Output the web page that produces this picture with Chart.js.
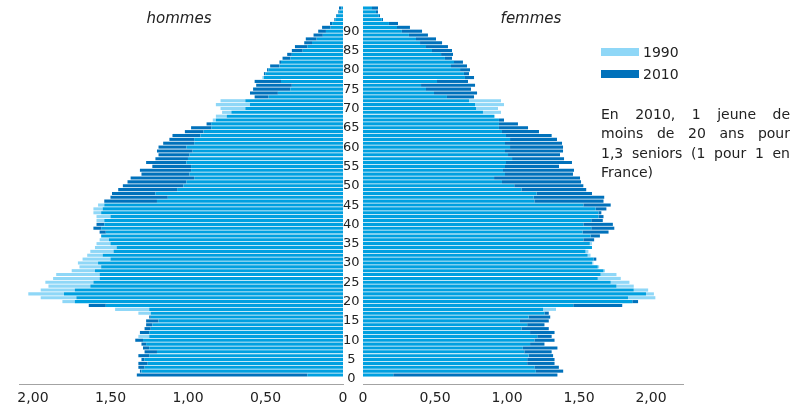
<!DOCTYPE html>
<html>
<head>
<meta charset="utf-8">
<script src="https://cdn.jsdelivr.net/npm/chart.js@4.4.0/dist/chart.umd.min.js"></script>
<style>
  body { margin: 0; background: #fff; font-family: 'DejaVu Sans', Verdana, sans-serif; color: #222; }
  #wrap { position: relative; width: 801px; height: 409px; overflow: hidden; }
  canvas { position: absolute; top: 0; }
  .title { position: absolute; top: 9px; width: 120px; text-align: center; font-style: italic; font-size: 15px; line-height: 18px; }
  .swatch { position: absolute; left: 601px; width: 38px; height: 8px; }
  .leg { position: absolute; left: 643px; font-size: 14px; line-height: 16px; }
  #note { position: absolute; left: 601px; top: 105px; width: 189px; font-size: 14px; line-height: 19.3px; }
  #note div { text-align: justify; text-align-last: justify; white-space: nowrap; }
  #note div.last { text-align-last: left; }
</style>
</head>
<body>
<div id="wrap">
  <canvas id="men" width="363" height="409" style="left:0"></canvas>
  <canvas id="women" width="340" height="409" style="left:353px"></canvas>
  <div class="title" style="left:119px">hommes</div>
  <div class="title" style="left:471px">femmes</div>
  <div class="swatch" style="top:48px;background:#8fd7f7"></div>
  <div class="leg" style="top:44px">1990</div>
  <div class="swatch" style="top:70px;background:#0071bb"></div>
  <div class="leg" style="top:66px">2010</div>
  <div id="note">
    <div>En 2010, 1 jeune de</div>
    <div>moins de 20 ans pour</div>
    <div>1,3 seniors (1 pour 1 en</div>
    <div class="last">France)</div>
  </div>
</div>
<script>
// ages 0 to 95, population share in %
const ages = [0,1,2,3,4,5,6,7,8,9,10,11,12,13,14,15,16,17,18,19,20,21,22,23,24,25,26,27,28,29,
  30,31,32,33,34,35,36,37,38,39,40,41,42,43,44,45,46,47,48,49,50,51,52,53,54,55,56,57,58,59,
  60,61,62,63,64,65,66,67,68,69,70,71,72,73,74,75,76,77,78,79,80,81,82,83,84,85,86,87,88,89,
  90,91,92,93,94,95];
const ageTicks = [0,5,10,15,20,25,30,35,40,45,50,55,60,65,70,75,80,85,90];

const xTickValues = [0, 0.5, 1, 1.5, 2];
const xTickLabels = ['0', '0,50', '1,00', '1,50', '2,00'];

const men1990 = [0.23,1.30,1.28,1.26,1.28,1.25,1.20,1.25,1.27,1.29,
  1.32,1.25,1.24,1.23,1.19,1.24,1.32,1.47,1.53,1.81,
  1.95,2.03,1.95,1.90,1.92,1.87,1.85,1.75,1.70,1.71,
  1.68,1.65,1.63,1.60,1.59,1.57,1.56,1.53,1.56,1.54,
  1.59,1.59,1.61,1.61,1.58,1.20,1.13,1.21,1.07,1.03,
  1.01,0.96,0.99,0.98,0.98,1.01,1.00,0.99,0.97,1.01,
  0.96,0.96,0.92,0.90,0.85,0.85,0.84,0.82,0.78,0.79,
  0.82,0.79,0.48,0.42,0.34,0.33,0.40,0.52,0.50,0.48,
  0.41,0.40,0.34,0.33,0.26,0.23,0.20,0.17,0.13,0.11,
  0.08,0.07,0.05,0.04,0.025,0.01];
const men2010 = [1.33,1.31,1.32,1.32,1.30,1.32,1.28,1.29,1.30,1.34,
  1.25,1.31,1.28,1.27,1.27,1.25,1.24,1.25,1.64,1.73,
  1.72,1.80,1.73,1.63,1.61,1.57,1.57,1.60,1.56,1.58,
  1.50,1.55,1.48,1.46,1.50,1.51,1.56,1.57,1.61,1.59,
  1.54,1.50,1.56,1.55,1.54,1.54,1.50,1.49,1.45,1.42,
  1.39,1.37,1.30,1.31,1.23,1.27,1.21,1.19,1.20,1.19,
  1.16,1.12,1.10,1.02,0.98,0.88,0.82,0.75,0.72,0.63,
  0.60,0.63,0.57,0.60,0.58,0.56,0.57,0.51,0.51,0.49,
  0.47,0.41,0.39,0.36,0.33,0.31,0.25,0.24,0.19,0.16,
  0.135,0.084,0.056,0.045,0.03,0.026];
const women1990 = [0.21,1.20,1.19,1.14,1.14,1.15,1.12,1.11,1.16,1.19,
  1.21,1.16,1.10,1.14,1.09,1.15,1.26,1.34,1.46,1.87,
  2.03,2.02,1.98,1.88,1.85,1.79,1.76,1.68,1.64,1.60,
  1.60,1.58,1.565,1.59,1.59,1.53,1.58,1.525,1.585,1.53,
  1.585,1.635,1.635,1.615,1.53,1.19,1.185,1.205,1.10,1.05,
  0.965,0.91,0.986,0.972,0.986,0.993,1.035,1.007,0.986,1.021,
  0.986,1.021,0.993,0.965,0.944,0.944,0.944,0.917,0.958,0.9375,
  0.979,0.958,0.583,0.493,0.4375,0.403,0.514,0.708,0.701,0.674,
  0.611,0.632,0.569,0.542,0.479,0.4375,0.396,0.368,0.319,0.27,
  0.236,0.18,0.13,0.11,0.09,0.0625];
const women2010 = [1.35,1.39,1.36,1.33,1.33,1.32,1.31,1.35,1.26,1.33,
  1.31,1.33,1.29,1.26,1.29,1.30,1.29,1.25,1.80,1.91,
  1.84,1.965,1.88,1.76,1.72,1.63,1.65,1.67,1.63,1.59,
  1.62,1.56,1.545,1.59,1.575,1.605,1.645,1.705,1.745,1.735,
  1.665,1.67,1.655,1.69,1.72,1.67,1.675,1.59,1.55,1.53,
  1.514,1.507,1.458,1.465,1.361,1.451,1.396,1.368,1.389,1.389,
  1.382,1.347,1.31,1.222,1.146,1.076,0.979,0.91,0.833,0.785,
  0.778,0.736,0.771,0.792,0.75,0.778,0.729,0.771,0.736,0.743,
  0.722,0.694,0.618,0.625,0.618,0.59,0.549,0.507,0.451,0.41,
  0.326,0.243,0.139,0.118,0.104,0.104];

const colBoth = '#00a0e0';
const col1990 = '#8fd7f7';
const col2010 = '#0071bb';
const fontFamily = "'DejaVu Sans', Verdana, sans-serif";

function buildPyramid(canvasId, v1990, v2010, isLeft, xMax) {
    // overlap of both years, then whichever year is larger sticks out
    const both = ages.map((a, i) => ({ x: Math.min(v1990[i], v2010[i]), y: a }));
    const more1990 = ages.map((a, i) => ({ x: Math.max(0, v1990[i] - v2010[i]), y: a }));
    const more2010 = ages.map((a, i) => ({ x: Math.max(0, v2010[i] - v1990[i]), y: a }));

    const barStyle = { barPercentage: 0.8, categoryPercentage: 1, borderWidth: 0 };

    return new Chart(document.getElementById(canvasId), {
        type: 'bar',
        data: {
            datasets: [
                { label: 'both', data: both, backgroundColor: colBoth, ...barStyle },
                { label: '1990', data: more1990, backgroundColor: col1990, ...barStyle },
                { label: '2010', data: more2010, backgroundColor: col2010, ...barStyle }
            ]
        },
        options: {
            indexAxis: 'y',
            responsive: false,
            animation: false,
            events: [],
            layout: {
                padding: { left: isLeft ? 19 : 10, right: isLeft ? 0 : 10, top: 2, bottom: 0 }
            },
            plugins: {
                legend: { display: false },
                tooltip: { enabled: false }
            },
            scales: {
                x: {
                    type: 'linear',
                    bounds: 'data',
                    min: 0,
                    max: xMax,
                    reverse: isLeft,
                    stacked: true,
                    grid: { display: false, drawTicks: false },
                    border: { display: true, color: '#a3a3a3' },
                    ticks: {
                        padding: 6,
                        color: '#222',
                        font: { family: fontFamily, size: 14 },
                        callback: value => xTickLabels[xTickValues.indexOf(value)]
                    },
                    afterBuildTicks: axis => { axis.ticks = xTickValues.map(v => ({ value: v })); },
                    afterFit: axis => {
                        axis.height = 25;
                        axis.paddingLeft = 0;
                        axis.paddingRight = 0;
                    }
                },
                y: {
                    type: 'linear',
                    bounds: 'data',
                    offset: false,
                    min: -2.33,
                    max: 96.56,
                    stacked: true,
                    position: 'right',
                    display: isLeft,
                    grid: { display: false, drawTicks: false, offset: false },
                    border: { display: false },
                    ticks: {
                        padding: 0,
                        crossAlign: 'center',
                        labelOffset: 4,
                        color: '#222',
                        font: { family: fontFamily, size: 13 },
                        callback: value => String(value)
                    },
                    afterBuildTicks: axis => { axis.ticks = ageTicks.map(v => ({ value: v })); },
                    afterFit: axis => {
                        axis.width = isLeft ? 20 : 0;
                        axis.paddingTop = 0;
                        axis.paddingBottom = 0;
                    }
                }
            }
        }
    });
}

buildPyramid('men', men1990, men2010, true, 2.09);
buildPyramid('women', women1990, women2010, false, 2.222);
</script>
</body>
</html>
